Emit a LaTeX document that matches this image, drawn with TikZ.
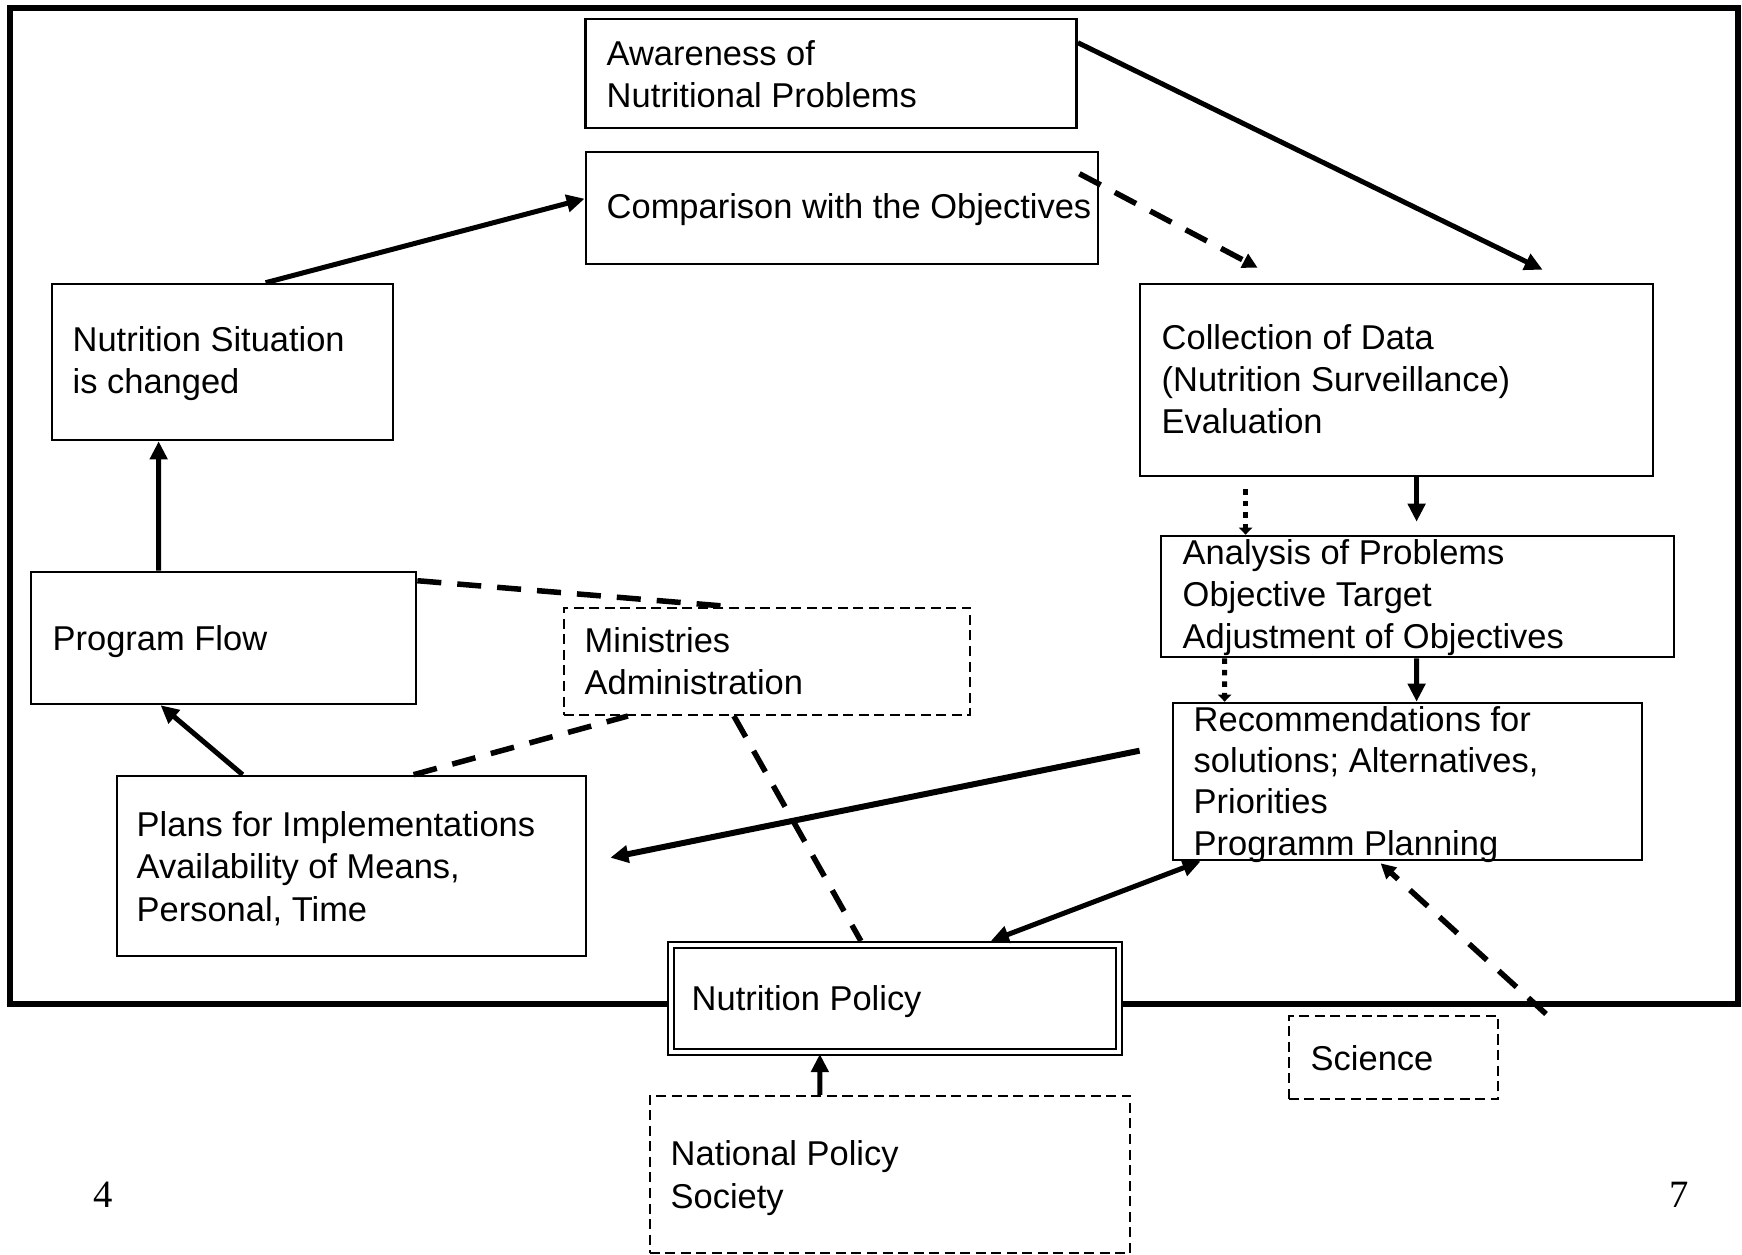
\documentclass[tikz,border=0pt]{standalone}
\usepackage{fontspec}
\setmainfont{Liberation Sans}
\newfontfamily\pagenumfont{Liberation Serif}
\usetikzlibrary{arrows.meta,calc}
\begin{document}
\begin{tikzpicture}[x=0.01cm,y=-0.01cm,
  box/.style={draw, line width=0.025cm, rectangle, inner sep=0},
  dbox/.style={draw, line width=0.02cm, dash pattern=on 0.1cm off 0.055cm, rectangle, inner sep=0},
  % texts are placed by the baseline of their last line
  txt/.style={anchor=base west, align=left, inner sep=0, font=\fontsize{9.8pt}{11.95pt}\selectfont},
  arr/.style={line width=0.05cm, -{Triangle[length=0.18cm,width=0.17cm]}},
  dasharr/.style={line width=0.055cm, dash pattern=on 0.24cm off 0.16cm},
  dashtip/.style={-{Triangle[length=0.15cm,width=0.15cm]}},
  dottarr/.style={line width=0.05cm, dash pattern=on 0.055cm off 0.06cm, -{Triangle[length=0.07cm,width=0.13cm]}},
  pagenum/.style={anchor=base west, inner sep=0, font=\pagenumfont\fontsize{11pt}{13pt}\selectfont}
]
\useasboundingbox (0,0) rectangle (1742,1255);

% outer frame
\draw[line width=0.06cm] (10,8) rectangle (1738,1004);

% boxes
\node[box, minimum width=4.91cm, minimum height=1.09cm] (aw)  at (831,73.5) {};
\node[box, minimum width=5.12cm, minimum height=1.12cm] (cmp) at (842,208) {};
\node[box, minimum width=3.41cm, minimum height=1.56cm] (sit) at (222.5,362) {};
\node[box, minimum width=5.13cm, minimum height=1.92cm] (col) at (1396.5,380) {};
\node[box, minimum width=5.13cm, minimum height=1.21cm] (an)  at (1417.5,596.5) {};
\node[box, minimum width=3.85cm, minimum height=1.32cm] (pf)  at (223.5,638) {};
\node[dbox, minimum width=4.06cm, minimum height=1.07cm] (min) at (767,661.5) {};
\node[box, minimum width=4.69cm, minimum height=1.57cm] (rec) at (1407.5,781.5) {};
\node[box, minimum width=4.69cm, minimum height=1.80cm] (pl)  at (351.5,866) {};
\node[draw, double, double distance=0.04cm, line width=0.02cm, fill=white,
      rectangle, inner sep=0, minimum width=4.48cm, minimum height=1.07cm] (np) at (895,998.5) {};
\node[dbox, minimum width=2.09cm, minimum height=0.83cm] (sci) at (1393.5,1057.5) {};
\node[dbox, minimum width=4.80cm, minimum height=1.57cm] (nat) at (890,1174.5) {};

% texts
\node[txt] (taw)  at (606,108)  {Awareness of\\Nutritional Problems};
\node[txt] (tcmp) at (606,219)  {Comparison with the Objectives};
\node[txt] (tsit) at (72,394)   {Nutrition Situation\\is changed};
\node[txt] (tcol) at (1161,434) {Collection of Data\\(Nutrition Surveillance)\\Evaluation};
\node[txt] (tan)  at (1182,649) {Analysis of Problems\\Objective Target\\Adjustment of Objectives};
\node[txt] (tpf)  at (52,650)   {Program Flow};
\node[txt] (tmin) at (584,695)  {Ministries\\Administration};
\node[txt, font=\fontsize{9.8pt}{11.7pt}\selectfont] (trec) at (1193,855) {Recommendations for\\solutions; Alternatives,\\Priorities\\Programm Planning};
\node[txt] (tpl)  at (136,921)  {Plans for Implementations\\Availability of Means,\\Personal, Time};
\node[txt] (tnp)  at (691,1010) {Nutrition Policy};
\node[txt] (tnat) at (670,1208) {National Policy\\Society};
\node[txt] (tsci) at (1310,1070) {Science};
\node[pagenum] (p4) at (93,1207) {4};
\node[pagenum] (p7) at (1669,1207) {7};

% connectors
\draw[arr] ($(aw.north east)+(0,25)$) -- ($(col.north west)+(404,-13)$);
\draw[dasharr, dashtip] ($(cmp.north east)+(-20,23)$) -- ($(col.north west)+(119,-15)$);
\draw[arr] ($(sit.north west)+(215,0)$) -- ($(cmp.north west)+(0,48)$);
\draw[arr] ($(pf.north west)+(129,0)$) -- ($(sit.south west)+(108,0)$);
\draw[arr] ($(pl.north west)+(127,0)$) -- ($(pf.south west)+(131,0)$);
\draw[dasharr] ($(pf.north east)+(0,10)$) -- ($(min.north west)+(172,0)$);
\draw[dasharr] ($(pl.north west)+(298,0)$) -- ($(min.south west)+(65,0)$);
\draw[dasharr] ($(min.south west)+(171,0)$) -- ($(np.north west)+(191,-3)$);
\draw[dottarr] ($(col.south west)+(107,12)$) -- ($(an.north west)+(86,0)$);
\draw[arr] ($(col.south west)+(278,0)$) -- ($(an.north west)+(257,-13)$);
\draw[dottarr] ($(an.south west)+(65,0)$) -- ($(rec.north west)+(53,0)$);
\draw[arr] ($(an.south west)+(257,0)$) -- ($(rec.north west)+(245,0)$);
\draw[arr, line width=0.06cm] ($(rec.north west)+(-32,49)$) -- ($(pl.north east)+(23,83)$);
\draw[line width=0.05cm, {Triangle[length=0.18cm,width=0.17cm]}-{Triangle[length=0.18cm,width=0.17cm]}]
  ($(np.north west)+(321,-3)$) -- ($(rec.south west)+(29,0)$);
\draw[dasharr, dashtip] ($(sci.north east)+(47,-1)$) -- ($(rec.south west)+(209,2)$);
\draw[arr] ($(nat.north west)+(171,0)$) -- ($(np.south west)+(150,1)$);
\end{tikzpicture}
\end{document}
